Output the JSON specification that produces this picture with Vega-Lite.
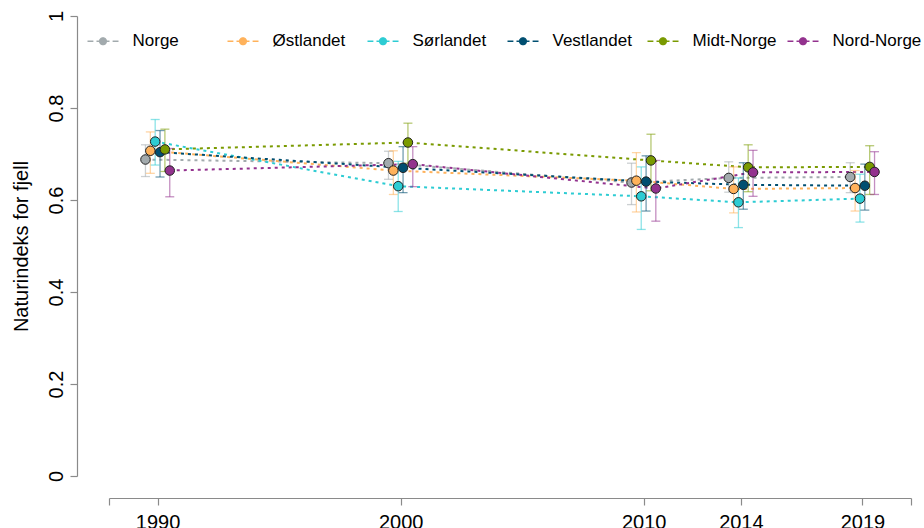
{
  "$schema": "https://vega.github.io/schema/vega-lite/v6.json",
  "width": 802,
  "height": 460,
  "autosize": {"type": "none"},
  "padding": {"left": 109, "top": 16, "right": 13, "bottom": 52},
  "background": "white",
  "config": {
    "font": "Liberation Sans",
    "view": {"stroke": null},
    "axis": {
      "grid": false,
      "domainColor": "#8a8a8a",
      "tickColor": "#8a8a8a",
      "domainWidth": 1.2,
      "tickWidth": 1.2,
      "labelColor": "#000",
      "titleColor": "#000",
      "labelFont": "Liberation Sans",
      "titleFont": "Liberation Sans"
    }
  },
  "data": {
    "values": [
      {"region": "Norge", "year": 1990, "value": 0.688, "lo": 0.651, "hi": 0.720},
      {"region": "Norge", "year": 2000, "value": 0.680, "lo": 0.645, "hi": 0.706},
      {"region": "Norge", "year": 2010, "value": 0.638, "lo": 0.590, "hi": 0.680},
      {"region": "Norge", "year": 2014, "value": 0.648, "lo": 0.617, "hi": 0.683},
      {"region": "Norge", "year": 2019, "value": 0.650, "lo": 0.616, "hi": 0.681},
      {"region": "Østlandet", "year": 1990, "value": 0.707, "lo": 0.658, "hi": 0.748},
      {"region": "Østlandet", "year": 2000, "value": 0.664, "lo": 0.612, "hi": 0.707},
      {"region": "Østlandet", "year": 2010, "value": 0.642, "lo": 0.574, "hi": 0.703},
      {"region": "Østlandet", "year": 2014, "value": 0.624, "lo": 0.572, "hi": 0.672},
      {"region": "Østlandet", "year": 2019, "value": 0.626, "lo": 0.576, "hi": 0.664},
      {"region": "Sørlandet", "year": 1990, "value": 0.727, "lo": 0.676, "hi": 0.775},
      {"region": "Sørlandet", "year": 2000, "value": 0.630, "lo": 0.575, "hi": 0.684},
      {"region": "Sørlandet", "year": 2010, "value": 0.608, "lo": 0.536, "hi": 0.672},
      {"region": "Sørlandet", "year": 2014, "value": 0.595, "lo": 0.540, "hi": 0.648},
      {"region": "Sørlandet", "year": 2019, "value": 0.603, "lo": 0.552, "hi": 0.656},
      {"region": "Vestlandet", "year": 1990, "value": 0.704, "lo": 0.650, "hi": 0.751},
      {"region": "Vestlandet", "year": 2000, "value": 0.670, "lo": 0.616, "hi": 0.716},
      {"region": "Vestlandet", "year": 2010, "value": 0.640, "lo": 0.576, "hi": 0.696},
      {"region": "Vestlandet", "year": 2014, "value": 0.633, "lo": 0.580, "hi": 0.681},
      {"region": "Vestlandet", "year": 2019, "value": 0.631, "lo": 0.578, "hi": 0.678},
      {"region": "Midt-Norge", "year": 1990, "value": 0.710, "lo": 0.662, "hi": 0.754},
      {"region": "Midt-Norge", "year": 2000, "value": 0.725, "lo": 0.680, "hi": 0.767},
      {"region": "Midt-Norge", "year": 2010, "value": 0.686, "lo": 0.620, "hi": 0.743},
      {"region": "Midt-Norge", "year": 2014, "value": 0.671, "lo": 0.618, "hi": 0.720},
      {"region": "Midt-Norge", "year": 2019, "value": 0.672, "lo": 0.612, "hi": 0.718},
      {"region": "Nord-Norge", "year": 1990, "value": 0.664, "lo": 0.607, "hi": 0.712},
      {"region": "Nord-Norge", "year": 2000, "value": 0.678, "lo": 0.629, "hi": 0.716},
      {"region": "Nord-Norge", "year": 2010, "value": 0.625, "lo": 0.554, "hi": 0.686},
      {"region": "Nord-Norge", "year": 2014, "value": 0.660, "lo": 0.608, "hi": 0.708},
      {"region": "Nord-Norge", "year": 2019, "value": 0.661, "lo": 0.612, "hi": 0.705}
    ]
  },
  "transform": [
    {
      "calculate": "datum.year + (indexof(['Norge', 'Østlandet', 'Sørlandet', 'Vestlandet', 'Midt-Norge', 'Nord-Norge'], datum.region) - 2.5) * 0.2",
      "as": "x_dodged"
    }
  ],
  "encoding": {
    "x": {
      "field": "x_dodged",
      "type": "quantitative",
      "scale": {"domain": [1988, 2021], "nice": false, "zero": false},
      "axis": {
        "title": null,
        "offset": 22,
        "values": [1988, 1990, 2000, 2010, 2014, 2019, 2021],
        "format": "d",
        "labelExpr": "datum.value == 1988 || datum.value == 2021 ? '' : datum.label",
        "tickSize": 7,
        "labelPadding": 7,
        "labelFontSize": 20,
        "labelFlush": false,
        "labelOverlap": false
      }
    },
    "color": {
      "field": "region",
      "type": "nominal",
      "scale": {
        "domain": ["Norge", "Østlandet", "Sørlandet", "Vestlandet", "Midt-Norge", "Nord-Norge"],
        "range": ["#A2AAAD", "#FFB25B", "#2DCCD3", "#004F71", "#7A9A01", "#93328E"]
      },
      "legend": {
        "title": null,
        "orient": "none",
        "legendX": -22.5,
        "legendY": 8.5,
        "direction": "horizontal",
        "columns": 6,
        "gridAlign": "all",
        "columnPadding": 3,
        "padding": 0,
        "symbolType": "M-1,0H-0.62M-0.42,0H-0.2M0.2,0H0.42M0.62,0H1M-0.22,0A0.22,0.22 0 1,0 0.22,0A0.22,0.22 0 1,0 -0.22,0Z",
        "symbolSize": 961,
        "symbolStrokeWidth": 1.3,
        "labelFontSize": 17,
        "labelOffset": 13,
        "labelLimit": 200,
        "labelFont": "Liberation Sans",
        "labelColor": "#000",
        "encode": {
          "symbols": {
            "update": {
              "fill": {"scale": "color", "field": "value"},
              "stroke": {"scale": "color", "field": "value"},
              "strokeDash": {"value": [1, 0]},
              "opacity": {"value": 1}
            }
          }
        }
      }
    }
  },
  "layer": [
    {
      "mark": {"type": "line", "strokeDash": [3, 4], "strokeWidth": 2},
      "encoding": {
        "y": {
          "field": "value",
          "type": "quantitative",
          "scale": {"domain": [0, 1], "nice": false},
          "axis": {
            "title": "Naturindeks for fjell",
            "offset": 32,
            "values": [0, 0.2, 0.4, 0.6, 0.8, 1],
            "format": "~g",
            "tickSize": 7,
            "labelPadding": 8,
            "labelFontSize": 20,
            "labelAngle": -90,
            "labelAlign": "center",
            "labelBaseline": "alphabetic",
            "titleFontSize": 20,
            "titleFontWeight": "normal",
            "titleAngle": -90,
            "titleAlign": "center",
            "titleBaseline": "alphabetic",
            "titleX": -50,
            "titleY": 230
          }
        }
      }
    },
    {
      "mark": {"type": "rule", "opacity": 0.55, "strokeWidth": 1.3},
      "encoding": {
        "y": {"field": "lo", "type": "quantitative"},
        "y2": {"field": "hi"}
      }
    },
    {
      "mark": {"type": "tick", "orient": "horizontal", "size": 9, "thickness": 1.3, "opacity": 0.55},
      "encoding": {"y": {"field": "lo", "type": "quantitative"}}
    },
    {
      "mark": {"type": "tick", "orient": "horizontal", "size": 9, "thickness": 1.3, "opacity": 0.55},
      "encoding": {"y": {"field": "hi", "type": "quantitative"}}
    },
    {
      "mark": {"type": "point", "filled": true, "size": 90, "stroke": "#222", "strokeWidth": 1, "opacity": 1},
      "encoding": {"y": {"field": "value", "type": "quantitative"}}
    }
  ]
}
